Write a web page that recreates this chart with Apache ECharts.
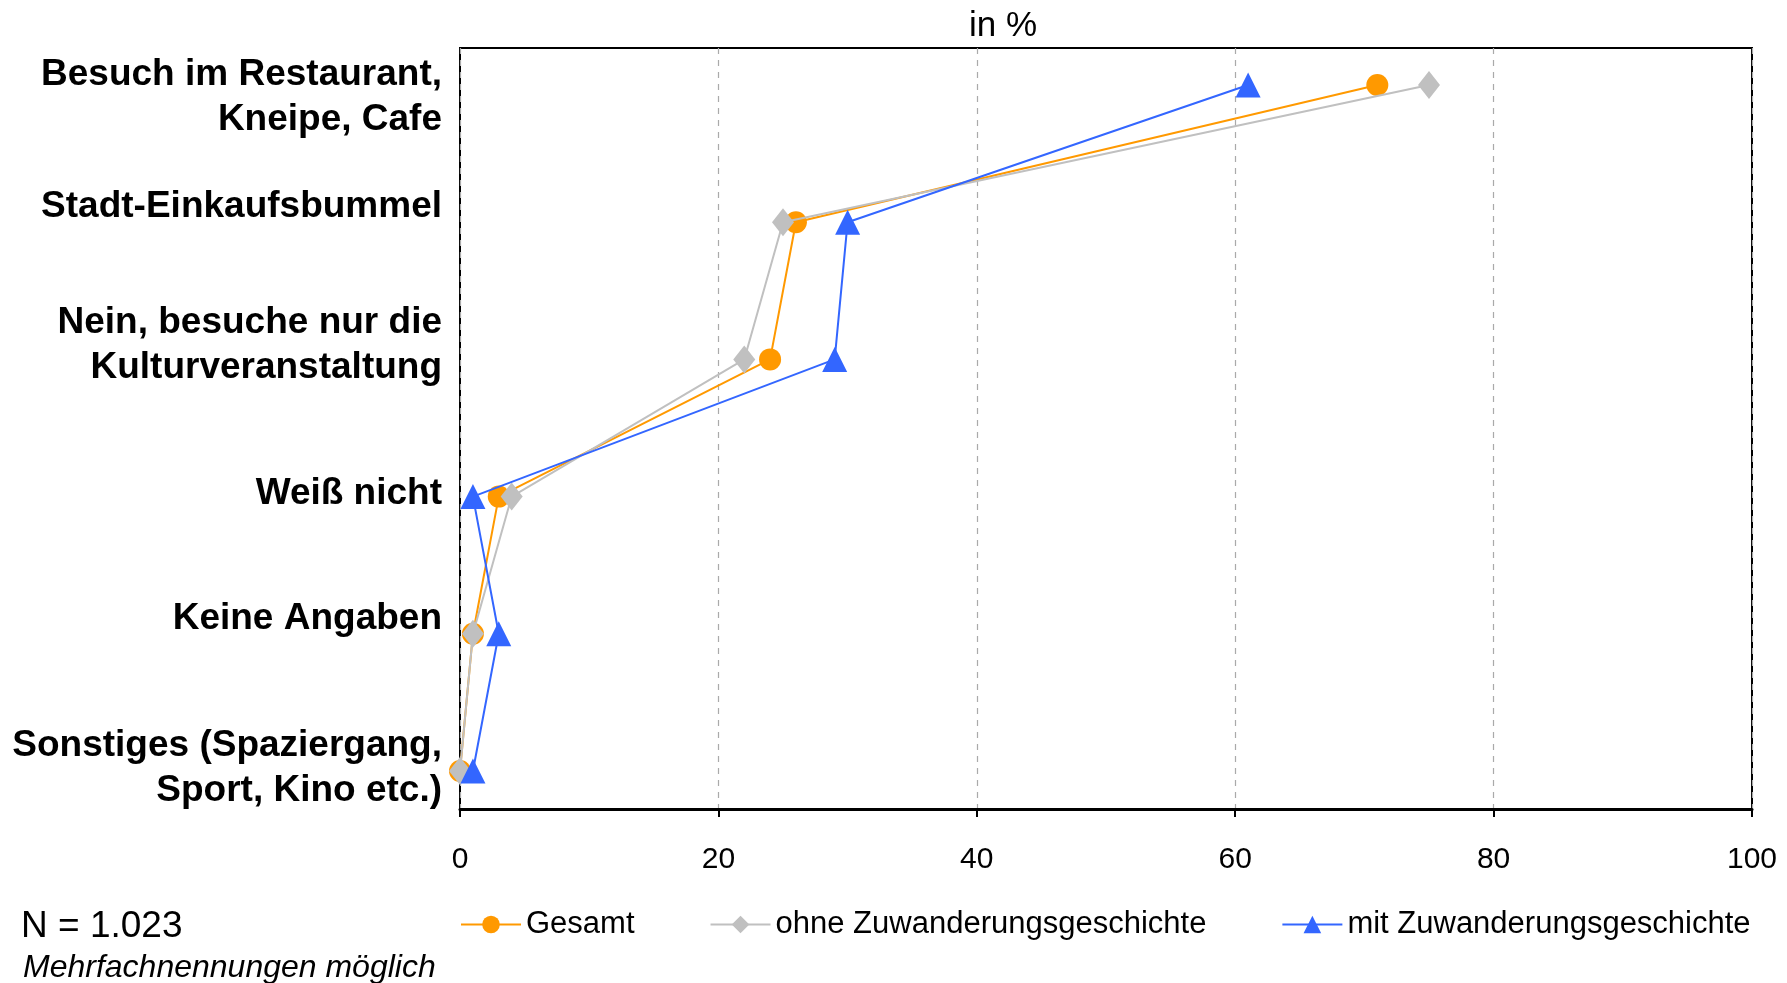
<!DOCTYPE html>
<html>
<head>
<meta charset="utf-8">
<script src="https://cdn.jsdelivr.net/npm/echarts@6/dist/echarts.min.js"></script>
<style>html,body{margin:0;padding:0;background:#fff}#c{width:1787px;height:983px}</style>
</head>
<body>
<div id="c"></div>
<script>
const categories = [
  'Besuch im Restaurant,\nKneipe, Cafe',
  'Stadt-Einkaufsbummel',
  'Nein, besuche nur die\nKulturveranstaltung',
  'Weiß nicht',
  'Keine Angaben',
  'Sonstiges (Spaziergang,\nSport, Kino etc.)'
];
const seriesNames = ['Gesamt', 'ohne Zuwanderungsgeschichte', 'mit Zuwanderungsgeschichte'];
const gesamt = [71, 26, 24, 3, 1, 0];
const ohne = [75, 25, 22, 4, 1, 0];
const mit = [61, 30, 29, 1, 3, 1];
const xTicks = [0, 20, 40, 60, 80, 100];

const FONT = '"Liberation Sans", Arial, sans-serif';
// label vertical nudges (px, positive = down), layout only
const labelShift = [12, -15, -14, -3, -15, -3];

function catLabel(value, index) {
  const lines = String(value).split('\n').map(l => '{b|' + l + '}');
  const s = labelShift[index] || 0;
  const sp = '{sp' + Math.abs(s * 2) + '|\u200b}';
  if (s > 0) lines.unshift(sp);
  else if (s < 0) lines.push(sp);
  return lines.join('\n');
}
const rich = {
  b: { fontFamily: FONT, fontSize: 37, fontWeight: 'bold', color: '#000', lineHeight: 45 }
};
labelShift.forEach(s => {
  const h = Math.abs(s * 2);
  rich['sp' + h] = { fontSize: 1, lineHeight: h, height: h };
});

const chart = echarts.init(document.getElementById('c'));
chart.setOption({
  animation: false,
  backgroundColor: '#fff',
  textStyle: { fontFamily: FONT },
  title: [
    { text: 'in %', left: 998, top: 4, textAlign: 'center',
      textStyle: { fontFamily: FONT, fontSize: 35, fontWeight: 'normal', color: '#000' } },
    { text: 'N = 1.023', left: 16, top: 903,
      textStyle: { fontFamily: FONT, fontSize: 37, fontWeight: 'normal', color: '#000' } },
    { text: 'Mehrfachnennungen möglich', left: 18, top: 947,
      textStyle: { fontFamily: FONT, fontSize: 32, fontWeight: 'normal', fontStyle: 'italic', color: '#000' } }
  ],
  legend: {
    left: 455, top: 904,
    itemWidth: 60, itemHeight: 22, itemGap: 75,
    textStyle: { fontFamily: FONT, fontSize: 31, color: '#000' },
    data: seriesNames
  },
  grid: [
    { left: 460, right: 35, top: 48, bottom: 174, show: true, borderColor: '#000', borderWidth: 2, containLabel: false },
    { left: 460, right: 35, top: 85, bottom: 212, containLabel: false }
  ],
  xAxis: [
    { gridIndex: 0, type: 'value', min: 0, max: 100, interval: 20,
      axisLine: { show: true, lineStyle: { color: '#000', width: 3 } },
      axisTick: { show: true, length: 8, lineStyle: { color: '#000', width: 2 } },
      axisLabel: { fontFamily: FONT, fontSize: 30, color: '#000', margin: 36,
        formatter: v => xTicks.indexOf(v) >= 0 ? String(v) : '' },
      splitLine: { show: true, lineStyle: { color: '#aaa', type: [6, 6], width: 1.2 } }
    },
    { gridIndex: 1, type: 'value', min: 0, max: 100, show: false }
  ],
  yAxis: [
    { gridIndex: 0, type: 'value', min: 0, max: 1, show: false },
    { gridIndex: 1, type: 'category', inverse: true, boundaryGap: false,
      data: categories,
      axisLine: { show: false }, axisTick: { show: false }, splitLine: { show: false },
      axisLabel: { fontFamily: FONT, fontSize: 37, fontWeight: 'bold', color: '#000',
        lineHeight: 45, margin: 18, align: 'right', formatter: catLabel, rich: rich }
    }
  ],
  series: [
    { name: seriesNames[0], type: 'line', xAxisIndex: 1, yAxisIndex: 1,
      data: gesamt, symbol: 'circle', symbolSize: 22, z: 3,
      itemStyle: { color: '#FF9900' }, lineStyle: { color: '#FF9900', width: 2 } },
    { name: seriesNames[1], type: 'line', xAxisIndex: 1, yAxisIndex: 1,
      data: ohne, symbol: 'diamond', symbolSize: [22, 28], z: 4,
      itemStyle: { color: '#C0C0C0' }, lineStyle: { color: '#C0C0C0', width: 2 } },
    { name: seriesNames[2], type: 'line', xAxisIndex: 1, yAxisIndex: 1,
      data: mit, symbol: 'triangle', symbolSize: [25, 25], z: 5,
      itemStyle: { color: '#3366FF' }, lineStyle: { color: '#3366FF', width: 2 } }
  ]
});
</script>
</body>
</html>
